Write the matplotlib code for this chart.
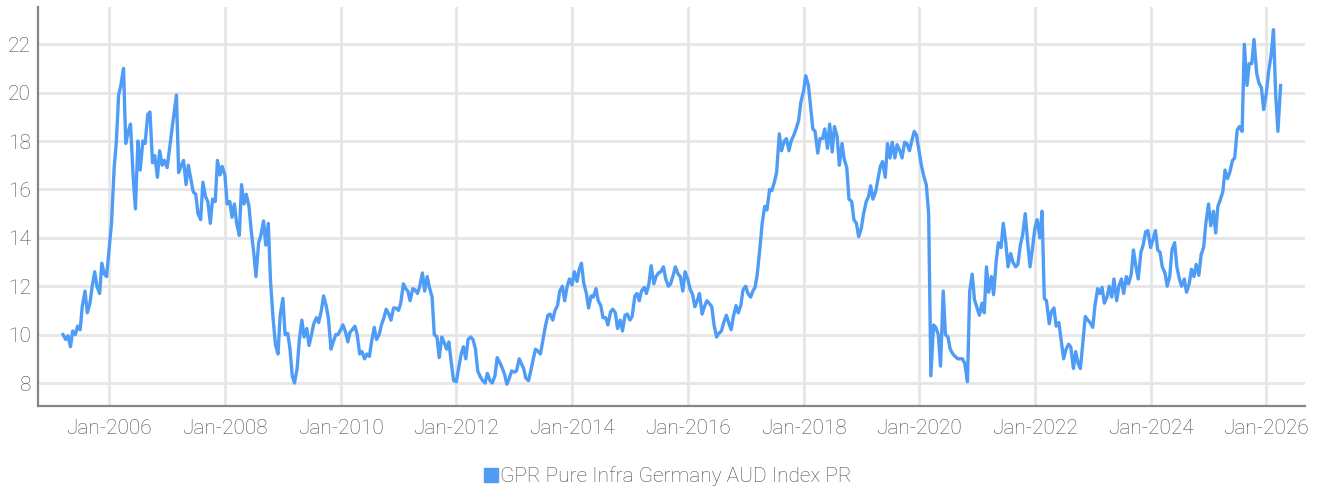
import matplotlib
matplotlib.use("Agg")
import matplotlib.dates as mdates
import matplotlib.pyplot as plt
from matplotlib.lines import Line2D
import pandas as pd

# semi-monthly readings of the index level, starting mid-March 2005
START_DATE = "2005-03-15"

VALUES_2005_2008 = [
    10.0, 9.8, 9.95, 9.5, 10.15, 10.0, 10.35, 10.2, 11.2, 11.8,
    10.9, 11.3, 12.0, 12.6, 12.0, 11.7, 12.95, 12.5, 12.4, 13.6,
    14.6, 16.9, 18.0, 19.9, 20.3, 21.0, 17.9, 18.4, 18.7, 16.5,
    15.2, 18.0, 16.8, 18.0, 17.9, 19.1, 19.2, 17.1, 17.4, 16.5,
    17.6, 17.0, 17.2, 16.9, 17.6, 18.5, 19.2, 19.9, 16.7, 17.0,
    17.2, 16.2, 17.0, 16.4, 15.9, 15.8, 15.0, 14.75, 16.3, 15.7,
    15.5, 14.6, 15.6, 15.5, 17.2, 16.6, 16.95, 16.6, 15.4, 15.5,
    14.85, 15.4, 14.6, 14.1, 16.2, 15.4, 15.8, 15.3, 14.3, 13.4,
    12.4, 13.8,
]

VALUES_2008_2012 = [
    14.1, 14.7, 13.7, 14.6, 12.2, 10.6, 9.6, 9.2, 10.8, 11.5,
    10.0, 10.05, 9.4, 8.3, 8.0, 8.6, 9.8, 10.6, 9.9, 10.25,
    9.55, 10.0, 10.45, 10.7, 10.5, 11.0, 11.6, 11.2, 10.7, 9.4,
    9.7, 10.0, 10.0, 10.2, 10.4, 10.1, 9.7, 10.1, 10.2, 10.35,
    10.0, 9.2, 9.3, 9.0, 9.2, 9.1, 9.7, 10.3, 9.8, 10.0,
    10.4, 10.7, 11.05, 10.85, 10.6, 11.1, 11.1, 11.0, 11.3, 12.1,
    11.9, 11.8, 11.4, 11.9, 11.85, 11.7, 12.0, 12.55, 11.8, 12.4,
    11.95, 11.55, 10.0, 9.9, 9.05, 9.9, 9.7, 9.4, 9.7, 8.8,
    8.1, 8.05, 8.6, 9.2, 9.5, 9.0, 9.8,
]

VALUES_2012_2016 = [
    9.9, 9.8, 9.4, 8.5, 8.25, 8.1, 8.0, 8.4, 8.1, 8.0,
    8.3, 9.05, 8.85, 8.65, 8.35, 7.95, 8.2, 8.5, 8.45, 8.5,
    9.0, 8.8, 8.6, 8.2, 8.1, 8.5, 9.0, 9.4, 9.3, 9.2,
    9.8, 10.3, 10.8, 10.85, 10.6, 11.0, 11.2, 11.8, 12.0, 11.4,
    12.0, 12.3, 12.05, 12.6, 12.2, 12.7, 12.95, 12.15, 11.7, 11.1,
    11.6, 11.55, 11.9, 11.4, 11.2, 10.7, 10.7, 10.4, 10.95, 11.05,
    10.9, 10.25, 10.6, 10.15, 10.8, 10.85, 10.6, 10.75, 11.6, 11.7,
    11.4, 11.8, 11.95, 11.7, 12.1, 12.85, 12.1, 12.4, 12.55, 12.6,
    12.8, 12.3, 12.0, 12.1, 12.45, 12.8, 12.5,
]

VALUES_2016_2019 = [
    12.4, 11.8, 12.6, 12.3, 11.9, 11.65, 11.15, 11.4, 11.7, 10.85,
    11.15, 11.4, 11.3, 11.15, 10.4, 9.9, 10.05, 10.15, 10.5, 10.8,
    10.5, 10.2, 10.75, 11.2, 10.9, 11.2, 11.85, 12.0, 11.7, 11.55,
    11.8, 11.95, 12.5, 13.6, 14.6, 15.3, 15.15, 16.0, 15.95, 16.3,
    16.7, 18.3, 17.6, 18.0, 18.1, 17.6, 18.0, 18.25, 18.5, 18.85,
    19.6, 20.05, 20.7, 20.3, 19.4, 18.5, 18.4, 17.5, 18.1, 18.1,
    18.5, 17.7, 18.7, 17.55, 18.6, 18.2, 17.0, 17.9, 17.25, 16.9,
    15.6, 15.5, 14.75, 14.6, 14.05, 14.4, 15.0, 15.5, 15.7, 16.15,
    15.6, 15.9, 16.4, 16.95, 17.15, 16.5, 17.9,
]

VALUES_2019_2022 = [
    17.3, 17.95, 17.3, 17.85, 17.6, 17.3, 17.95, 17.9, 17.6, 18.0,
    18.4, 18.25, 17.55, 17.0, 16.5, 16.2, 15.0, 8.3, 10.4, 10.3,
    10.0, 8.7, 11.8, 10.0, 9.9, 9.4, 9.2, 9.1, 9.0, 9.0,
    9.0, 8.8, 8.05, 11.8, 12.5, 11.45, 11.1, 10.8, 11.3, 10.9,
    12.8, 11.75, 12.4, 11.65, 13.0, 13.8, 13.6, 14.6, 13.8, 12.8,
    13.35, 13.0, 12.8, 12.9, 13.7, 14.1, 15.0, 13.9, 12.8, 13.5,
    14.4, 14.75, 14.0, 15.1, 11.5, 11.4, 10.45, 10.95, 11.1, 10.35,
    10.5, 9.8, 9.0, 9.37, 9.6, 9.5, 8.6, 9.3, 8.8, 8.6,
    9.8, 10.75, 10.6, 10.5, 10.3, 11.2,
]

VALUES_2022_2026 = [
    11.9, 11.7, 11.95, 11.3, 11.55, 12.0, 11.55, 12.3, 11.4, 12.0,
    12.3, 11.7, 12.4, 12.1, 12.5, 13.5, 12.8, 12.3, 13.4, 13.7,
    14.25, 14.3, 13.6, 13.9, 14.3, 13.5, 13.4, 12.8, 12.55, 12.0,
    12.4, 13.5, 13.8, 12.8, 12.3, 12.0, 12.3, 11.75, 12.1, 12.7,
    12.4, 12.9, 12.45, 13.3, 13.6, 14.6, 15.4, 14.5, 15.1, 14.2,
    15.3, 15.55, 15.9, 16.8, 16.45, 16.7, 17.2, 17.3, 18.45, 18.6,
    18.4, 22.0, 20.3, 21.2, 21.2, 22.2, 20.8, 20.4, 20.2, 19.3,
    20.0, 20.85, 21.6, 22.6, 19.9, 18.4, 20.3,
]

SERIES_NAME = "GPR Pure Infra Germany AUD Index PR"
Y_TICKS = [8, 10, 12, 14, 16, 18, 20, 22]

LINE_COLOR = "#4f9cf6"
GRID_COLOR = "#e6e6e6"
AXIS_COLOR = "#858585"
TEXT_COLOR = "#4a4a4a"

plt.rcParams["font.family"] = ["Roboto", "DejaVu Sans"]
plt.rcParams["font.weight"] = "light"


def main() -> None:
    values = (
        VALUES_2005_2008 + VALUES_2008_2012 + VALUES_2012_2016
        + VALUES_2016_2019 + VALUES_2019_2022 + VALUES_2022_2026
    )
    dates = pd.date_range(START_DATE, periods=len(values), freq="SMS")

    fig = plt.figure(figsize=(13.22, 4.91), dpi=100, facecolor="white")
    ax = fig.add_axes([38 / 1322, 1 - 406 / 491, (1305 - 38) / 1322, (406 - 7) / 491])

    ax.plot(dates, values, color=LINE_COLOR, linewidth=2.4, zorder=3)

    ax.set_xlim(pd.Timestamp("2004-10-08"), pd.Timestamp("2026-09-02"))
    ax.set_ylim(7.05, 23.54)
    ax.set_yticks(Y_TICKS)
    ax.xaxis.set_major_locator(mdates.YearLocator(2))
    ax.xaxis.set_major_formatter(mdates.DateFormatter("%b-%Y"))

    ax.grid(True, color=GRID_COLOR, linewidth=2.0, zorder=0)
    ax.set_axisbelow(True)
    for side in ("top", "right"):
        ax.spines[side].set_visible(False)
    ax.spines["left"].set_color(AXIS_COLOR)
    ax.spines["left"].set_linewidth(1.6)
    ax.spines["bottom"].set_color(AXIS_COLOR)
    ax.spines["bottom"].set_linewidth(1.6)

    ax.tick_params(axis="both", length=0, labelsize=15, labelcolor=TEXT_COLOR)
    ax.tick_params(axis="y", pad=5)
    ax.tick_params(axis="x", pad=9)

    handle = Line2D([0], [0], marker="s", linestyle="none", markersize=10.5,
                    markerfacecolor=LINE_COLOR, markeredgecolor=LINE_COLOR)
    fig.legend([handle], [SERIES_NAME], loc="center", bbox_to_anchor=(667 / 1322, 1 - 476 / 491),
               frameon=False, fontsize=15, handletextpad=0.05, handlelength=0.8,
               labelcolor=TEXT_COLOR)

    fig.savefig("out.png", dpi=100, facecolor="white")
    plt.close(fig)


if __name__ == "__main__":
    main()
